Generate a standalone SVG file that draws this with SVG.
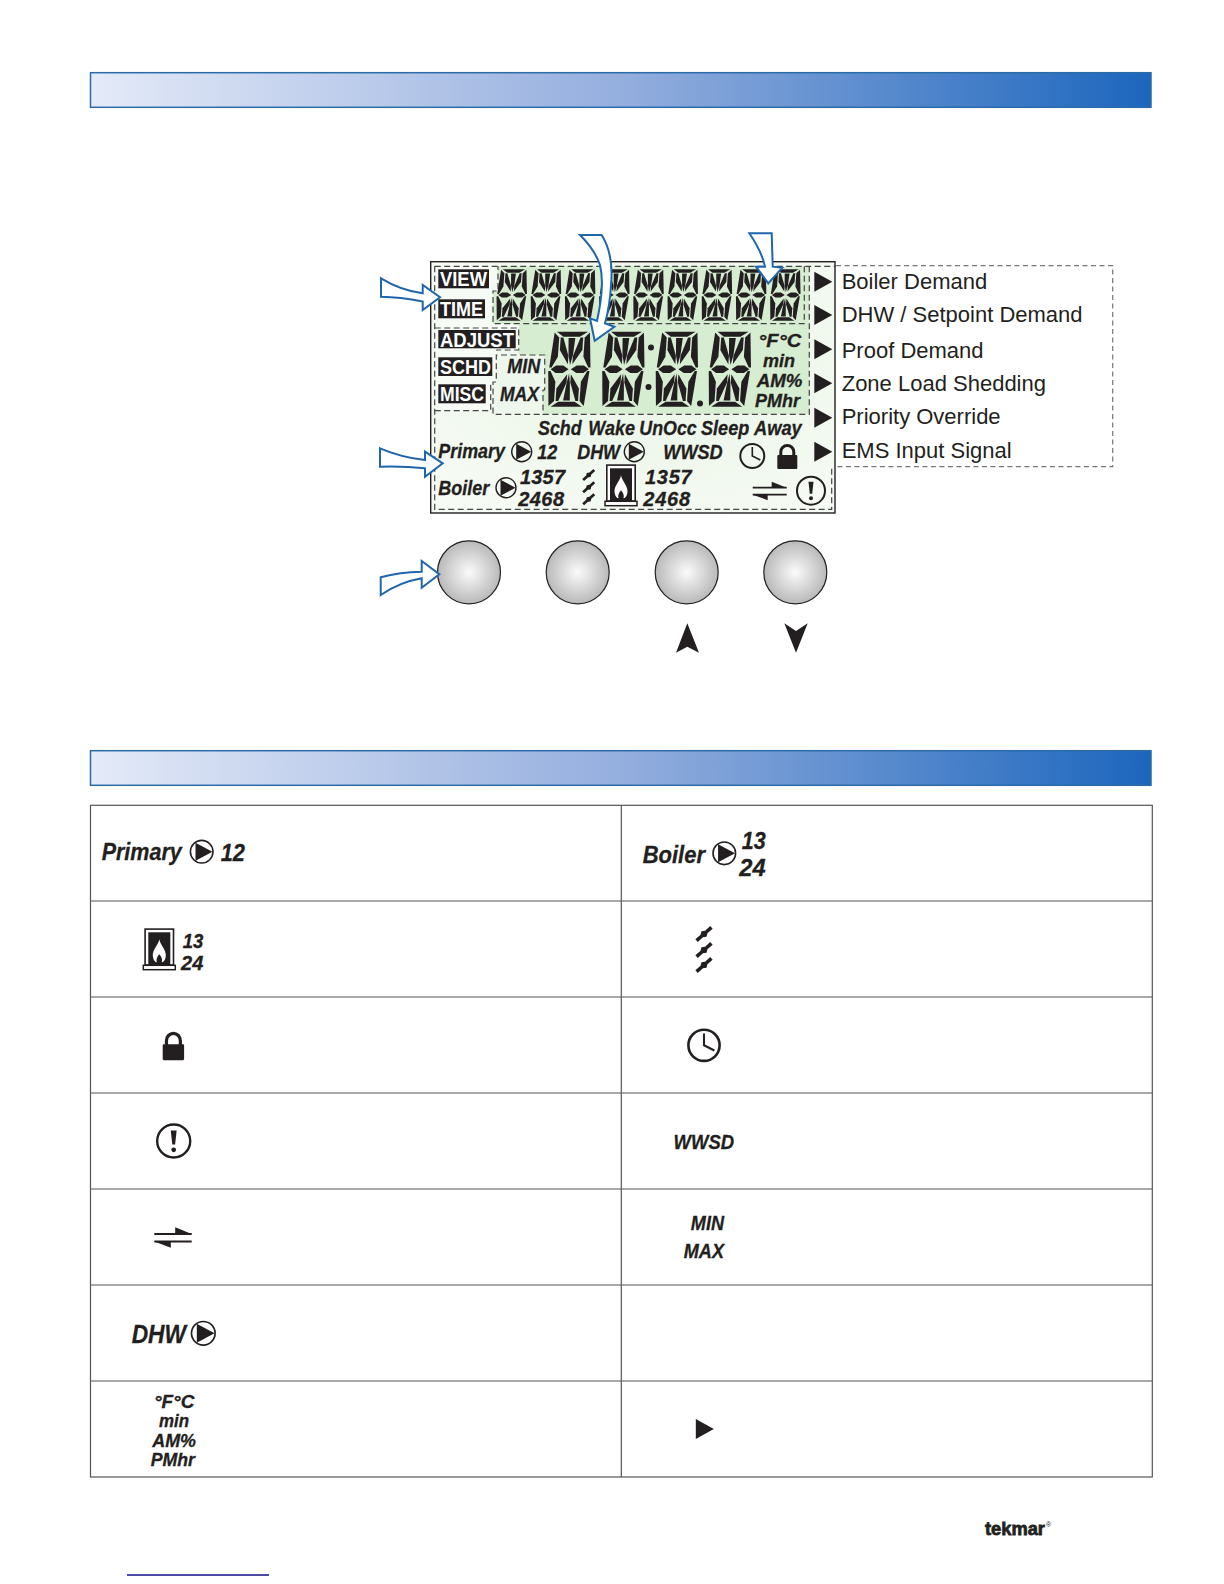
<svg xmlns="http://www.w3.org/2000/svg" width="1224" height="1584" viewBox="0 0 1224 1584">
<style>
text{font-family:"Liberation Sans",Arial,sans-serif;fill:#231f20}
.i{font-style:italic;font-weight:bold;stroke:#231f20;stroke-width:.3}
.w{font-weight:bold;fill:#fff;font-size:21px}
.r{font-size:22px}
.d{fill:none;stroke:#444;stroke-width:1.2;stroke-dasharray:6 3.5}
.e{fill:none;stroke:#777;stroke-width:1.2;stroke-dasharray:5 3.5}
.arrow{fill:#fff;stroke:#1f66ae;stroke-width:2;stroke-linejoin:miter}
.grid{stroke:#555;stroke-width:1.2;fill:none}
.dark{fill:#231f20}
.btn{fill:url(#btn);stroke:#222;stroke-width:1.2}
.bar{fill:url(#bar);stroke:#2b6ca8;stroke-width:1.5}
</style>
<defs>
<linearGradient id="bar" x1="0" x2="1" y1="0" y2="0"><stop offset="0" stop-color="#e4eaf8"/><stop offset="0.5" stop-color="#94aede"/><stop offset="1" stop-color="#1c66bd"/></linearGradient>
<radialGradient id="btn"><stop offset="0" stop-color="#fbfbfb"/><stop offset="1" stop-color="#b9b9b9"/></radialGradient>
<radialGradient id="lcd" cx="0.55" cy="0.4" r="0.75"><stop offset="0" stop-color="#e8f5e5"/><stop offset="1" stop-color="#f7fbf5"/></radialGradient>
<g id="seg" class="dark">
<polygon points="12,0 95,0 74,12 30,12"/>
<polygon points="6,2 19,14 19,60 4,86 -2,86"/>
<polygon points="100,2 87,14 87,60 102,86 108,86"/>
<polygon points="23,14 30,14 47,58 47,78 23,44"/>
<polygon points="83,14 76,14 59,58 59,78 83,44"/>
<polygon points="44,15 62,15 59,56 53,80 47,56"/>
<polygon points="2,90 16,81 35,81 50,90 35,99 16,99"/>
<polygon points="104,90 90,81 71,81 56,90 71,99 90,99"/>
<polygon points="9,180 92,180 72,168 28,168"/>
<polygon points="3,178 17,166 17,120 2,94 -4,94"/>
<polygon points="97,178 85,166 85,120 100,94 106,94"/>
<polygon points="21,166 28,166 47,122 47,102 21,136"/>
<polygon points="81,166 74,166 57,122 57,102 81,136"/>
<polygon points="41,165 59,165 56,124 52,100 47,124"/>
</g>
<g id="pump"><circle r="10" fill="none" stroke="#231f20" stroke-width="1.4"/><polygon class="dark" points="-5.5,-8 9.5,0 -5.5,8"/></g>
<g id="lock"><rect class="dark" x="0" y="11" width="20" height="14" rx="1"/><path d="M3.5 12V8a6.5 6.5 0 0 1 13 0V12" fill="none" stroke="#231f20" stroke-width="3"/></g>
<g id="clock"><circle r="12" fill="none" stroke="#231f20" stroke-width="2"/><path d="M0-9V0L8 4" fill="none" stroke="#231f20" stroke-width="1.6"/></g>
<g id="warn"><circle r="14" fill="none" stroke="#231f20" stroke-width="2"/><path class="dark" d="M-2.5-9H2.5L1.2 3H-1.2Z"/><circle class="dark" cy="7.5" r="2"/></g>
<polygon id="bolt" class="dark" points="-10,-1.8 -3,-1.8 0,-3.8 3,-1.8 10,-1.8 10,1.8 3,1.8 0,3.8 -3,1.8 -10,1.8" transform="rotate(-42)"/>
<g id="fire"><rect x="0.8" y="0.8" width="28.4" height="36" fill="#fff" stroke="#231f20" stroke-width="1.6"/><rect class="dark" x="4" y="4" width="22" height="33"/><path fill="#fff" d="M15 11C16 17 22 21 21.5 28C21 32 19 34 17.5 34C18.5 31 17 28 15 26C13 28 11.5 31 12.5 34C11 34 9 32 8.5 28C8 21 14 17 15 11Z"/><rect x="-1" y="37" width="32" height="4.4" fill="#fff" stroke="#231f20" stroke-width="1.5"/></g>
<g id="swap"><path d="M0 6H34M0 13H34" stroke="#231f20" stroke-width="1.8"/><polygon class="dark" points="19,0 34,6 19,6"/><polygon class="dark" points="15,13 0,13 15,18.5"/></g>
<polygon id="tri" class="dark" points="0,0 18,10 0,20"/>
</defs>
<rect width="1224" height="1584" fill="#fff"/>

<g id="header-1"><rect class="bar" x="90.5" y="72.7" width="1060.5" height="34.6"/></g>
<g id="header-2"><rect class="bar" x="90.5" y="750.7" width="1060.5" height="34.6"/></g>

<g id="lcd-panel">
<rect x="430.7" y="261.7" width="404.3" height="251.3" fill="url(#lcd)" stroke="#231f20" stroke-width="1.4"/>
<path d="M434.7 266.3H496V285H491V323H518.7V350H496V382H493V411H434.7Z" fill="#f7fbf6"/>
<path d="M496 355H544.7V390H543V414H493V382H496Z" fill="#eef7ec"/>
<path d="M498 266.3H809V414H543V390H544.7V355H518.7V324H493V291H498Z" fill="#d6edd2"/>
<path class="d" d="M434.7 266.3H836"/>
<path class="d" d="M434.7 266.3V509.3H831.7V466.7"/>
<path class="d" d="M809.3 266.3V414.3H543V390H544.7V355H496.3V382H493V414.3H543"/>
<path class="d" d="M804.3 266.3V323.7H493V291H498V266.3"/>
<path class="d" d="M434.7 328H518.7V350H496"/>
<path class="d" d="M434.7 410.7H490.7V384"/>
</g>

<g id="lcd-modes">
<rect x="438.3" y="269.3" width="50.7" height="19" fill="#231f20"/><text class="w" x="440" y="286" textLength="47" lengthAdjust="spacingAndGlyphs">VIEW</text>
<rect x="438.3" y="299.3" width="46.7" height="19" fill="#231f20"/><text class="w" x="440" y="316" textLength="43" lengthAdjust="spacingAndGlyphs">TIME</text>
<rect x="438.3" y="330" width="77.4" height="18.3" fill="#231f20"/><text class="w" x="440" y="346.5" textLength="74" lengthAdjust="spacingAndGlyphs">ADJUST</text>
<rect x="438.3" y="357.3" width="54" height="18.7" fill="#231f20"/><text class="w" x="440" y="374" textLength="51" lengthAdjust="spacingAndGlyphs">SCHD</text>
<rect x="438.3" y="384.3" width="47.4" height="19" fill="#231f20"/><text class="w" x="440" y="401" textLength="44" lengthAdjust="spacingAndGlyphs">MISC</text>
</g>

<g id="lcd-small-digits">
<use href="#seg" transform="translate(499.5,269.3) skewX(-4) scale(.27,.286)"/>
<use href="#seg" transform="translate(533.7,269.3) skewX(-4) scale(.27,.286)"/>
<use href="#seg" transform="translate(567.9,269.3) skewX(-4) scale(.27,.286)"/>
<use href="#seg" transform="translate(602.1,269.3) skewX(-4) scale(.27,.286)"/>
<use href="#seg" transform="translate(636.3,269.3) skewX(-4) scale(.27,.286)"/>
<use href="#seg" transform="translate(670.5,269.3) skewX(-4) scale(.27,.286)"/>
<use href="#seg" transform="translate(704.7,269.3) skewX(-4) scale(.27,.286)"/>
<use href="#seg" transform="translate(738.9,269.3) skewX(-4) scale(.27,.286)"/>
<use href="#seg" transform="translate(773.1,269.3) skewX(-4) scale(.27,.286)"/>
</g>
<g id="lcd-large-digits">
<use href="#seg" transform="translate(552.5,331.7) skewX(-4) scale(.375,.417)"/>
<use href="#seg" transform="translate(606.5,331.7) skewX(-4) scale(.375,.417)"/>
<use href="#seg" transform="translate(660,331.7) skewX(-4) scale(.375,.417)"/>
<use href="#seg" transform="translate(713,331.7) skewX(-4) scale(.375,.417)"/>
<circle class="dark" cx="651" cy="347.5" r="3"/><circle class="dark" cx="648.5" cy="387" r="3"/><circle class="dark" cx="700" cy="403.5" r="3"/>
</g>

<g id="lcd-text">
<g class="i" font-size="21">
<text x="507.3" y="373.3" textLength="33" lengthAdjust="spacingAndGlyphs">MIN</text>
<text x="500" y="401" textLength="39" lengthAdjust="spacingAndGlyphs">MAX</text>
</g>
<g class="i" font-size="18">
<text x="758.3" y="347.3" textLength="43" lengthAdjust="spacingAndGlyphs">°F°C</text>
<text x="763" y="366.7" textLength="32" lengthAdjust="spacingAndGlyphs">min</text>
<text x="756.7" y="386.7" textLength="45.6" lengthAdjust="spacingAndGlyphs">AM%</text>
<text x="755" y="407.3" textLength="45" lengthAdjust="spacingAndGlyphs">PMhr</text>
</g>
<g class="i" font-size="21">
<text x="538" y="435" textLength="43.7" lengthAdjust="spacingAndGlyphs">Schd</text>
<text x="588.3" y="435" textLength="46.7" lengthAdjust="spacingAndGlyphs">Wake</text>
<text x="639.3" y="435" textLength="57.5" lengthAdjust="spacingAndGlyphs">UnOcc</text>
<text x="701" y="435" textLength="48.3" lengthAdjust="spacingAndGlyphs">Sleep</text>
<text x="754" y="435" textLength="47.7" lengthAdjust="spacingAndGlyphs">Away</text>
<text x="438.3" y="458.3" textLength="66.7" lengthAdjust="spacingAndGlyphs">Primary</text>
<text x="537.3" y="459" textLength="20" lengthAdjust="spacingAndGlyphs">12</text>
<text x="577.3" y="459" textLength="42.7" lengthAdjust="spacingAndGlyphs">DHW</text>
<text x="663.3" y="459" textLength="59.4" lengthAdjust="spacingAndGlyphs">WWSD</text>
<text x="438.3" y="495" textLength="51" lengthAdjust="spacingAndGlyphs">Boiler</text>
</g>
<g class="i" font-size="20">
<text x="520" y="484" textLength="45" lengthAdjust="spacing">1357</text>
<text x="518.3" y="505.7" textLength="45.7" lengthAdjust="spacing">2468</text>
<text x="645" y="484" textLength="46.7" lengthAdjust="spacing">1357</text>
<text x="643.3" y="505.7" textLength="46.7" lengthAdjust="spacing">2468</text>
</g>
</g>

<g id="lcd-icons">
<use href="#pump" x="521.7" y="451.7"/>
<use href="#pump" x="634.3" y="451.7"/>
<use href="#pump" x="506" y="487.7"/>
<use href="#clock" x="752.3" y="456"/>
<use href="#lock" x="777.3" y="444"/>
<use href="#warn" x="811" y="490.7"/>
<use href="#swap" x="752.7" y="481.7"/>
<use href="#fire" x="606" y="464.3"/>
<use href="#bolt" transform="translate(588.7,475) scale(.75)"/>
<use href="#bolt" transform="translate(588.7,487.3) scale(.75)"/>
<use href="#bolt" transform="translate(588.7,499.3) scale(.75)"/>
</g>

<g id="demand-list">
<path class="e" d="M836 265.7H1112.7V466.7H836"/>
<use href="#tri" x="814.3" y="271.7"/><text class="r" x="841.7" y="289.3">Boiler Demand</text>
<use href="#tri" x="814.3" y="305"/><text class="r" x="841.7" y="321.7">DHW / Setpoint Demand</text>
<use href="#tri" x="814.3" y="339.3"/><text class="r" x="841.7" y="357.7">Proof Demand</text>
<use href="#tri" x="814.3" y="373.3"/><text class="r" x="841.7" y="390.7">Zone Load Shedding</text>
<use href="#tri" x="814.3" y="407.7"/><text class="r" x="841.7" y="424.3">Priority Override</text>
<use href="#tri" x="814.3" y="441.7"/><text class="r" x="841.7" y="458.3">EMS Input Signal</text>
</g>

<g id="buttons">
<circle class="btn" cx="469" cy="572.3" r="31.5"/>
<circle class="btn" cx="577.7" cy="572.3" r="31.5"/>
<circle class="btn" cx="686.7" cy="572.3" r="31.5"/>
<circle class="btn" cx="795.3" cy="572.3" r="31.5"/>
<polygon class="dark" points="687.3,623.3 676,652.7 687.3,646.7 699,652.7"/>
<polygon class="dark" points="784.3,623.3 796,631 807.7,623.3 796,652.7"/>
</g>

<g id="connectors">
<path class="arrow" d="M381 278.3Q400 290 422.7 293.3V285L440 297.3L422.7 310V301.5Q400 297 381 296.7Z"/>
<path class="arrow" d="M380 448.3Q400 457 425 460V451.7L442.7 463.3L425 476.7V468.3Q403 466 380 466.7Z"/>
<path class="arrow" d="M380.7 577.3Q400 572 421.7 571.7V561L439.3 574.3L421.7 587.7V578.3Q400 582 380.7 595Z"/>
<path class="arrow" d="M580 235H601.7Q614 255 611 285Q610 305 605 323.3L614.3 326.7L594.7 340.7L590 318.3L597 321Q605 285 600 265Q595 250 580 235Z"/>
<path class="arrow" d="M749.3 233.3H771.7L772.7 266.7L782.3 267.7L768.3 283.3L756 266.7L765 266.7Q762 252 749.3 233.3Z"/>
</g>

<g id="table">
<rect class="grid" x="90.5" y="805.3" width="1061.8" height="671.7"/>
<path class="grid" d="M621.3 805.3V1477M90.5 901H1152.3M90.5 997H1152.3M90.5 1093H1152.3M90.5 1189H1152.3M90.5 1285H1152.3M90.5 1381H1152.3"/>
</g>

<g id="row-primary"><text class="i" font-size="24.5" x="101.7" y="860" textLength="80" lengthAdjust="spacingAndGlyphs">Primary</text><use href="#pump" transform="translate(201.7,851.7) scale(1.13)"/><text class="i" font-size="24.5" x="220.7" y="860.7" textLength="24.3" lengthAdjust="spacingAndGlyphs">12</text></g>
<g id="row-boiler"><text class="i" font-size="24.5" x="642.7" y="863.3" textLength="62.3" lengthAdjust="spacingAndGlyphs">Boiler</text><use href="#pump" transform="translate(724.3,853.3) scale(1.13)"/><text class="i" font-size="24.5" x="741.7" y="849.3" textLength="24" lengthAdjust="spacingAndGlyphs">13</text><text class="i" font-size="24.5" x="739.3" y="875.7" textLength="26.4" lengthAdjust="spacingAndGlyphs">24</text></g>
<g id="row-burner"><use href="#fire" x="144.3" y="928.3"/><text class="i" font-size="20.5" x="182.7" y="947.7" textLength="20.6" lengthAdjust="spacingAndGlyphs">13</text><text class="i" font-size="20.5" x="181" y="970" textLength="22.3" lengthAdjust="spacingAndGlyphs">24</text></g>
<g id="row-bolt"><use href="#bolt" x="704" y="934"/><use href="#bolt" x="704" y="950"/><use href="#bolt" x="704" y="965"/></g>
<g id="row-lock"><use href="#lock" transform="translate(162.7,1031.7) scale(1.07,1.14)"/></g>
<g id="row-clock"><use href="#clock" transform="translate(704,1045.3) scale(1.3)"/></g>
<g id="row-warn"><use href="#warn" transform="translate(173.7,1141) scale(1.18)"/></g>
<g id="row-wwsd"><text class="i" font-size="21" x="673.6" y="1149" textLength="60.4" lengthAdjust="spacingAndGlyphs">WWSD</text></g>
<g id="row-swap"><use href="#swap" transform="translate(154.3,1227.3) scale(1.1)"/></g>
<g id="row-minmax"><text class="i" font-size="21" x="690.8" y="1230" textLength="33.2" lengthAdjust="spacingAndGlyphs">MIN</text><text class="i" font-size="21" x="683.7" y="1258" textLength="40.3" lengthAdjust="spacingAndGlyphs">MAX</text></g>
<g id="row-dhw"><text class="i" font-size="26" x="131.7" y="1343.3" textLength="54.3" lengthAdjust="spacingAndGlyphs">DHW</text><use href="#pump" transform="translate(203.3,1333.3) scale(1.18)"/></g>
<g id="row-units"><g class="i" font-size="17.5"><text x="154" y="1408.3" textLength="40.3" lengthAdjust="spacingAndGlyphs">°F°C</text><text x="159" y="1427.3" textLength="30" lengthAdjust="spacingAndGlyphs">min</text><text x="152.3" y="1446.7" textLength="43.7" lengthAdjust="spacingAndGlyphs">AM%</text><text x="150.7" y="1465.7" textLength="44.3" lengthAdjust="spacingAndGlyphs">PMhr</text></g></g>
<g id="row-tri"><use href="#tri" x="695.8" y="1419"/></g>

<g id="logo"><text x="985" y="1535" font-size="19" font-weight="bold" stroke="#231f20" stroke-width=".8" textLength="60" lengthAdjust="spacingAndGlyphs">tekmar</text><text x="1046" y="1527" font-size="7">®</text></g>
<path id="footer-rule" d="M127 1575H269" stroke="#14108a" stroke-width="1.5"/>
</svg>
